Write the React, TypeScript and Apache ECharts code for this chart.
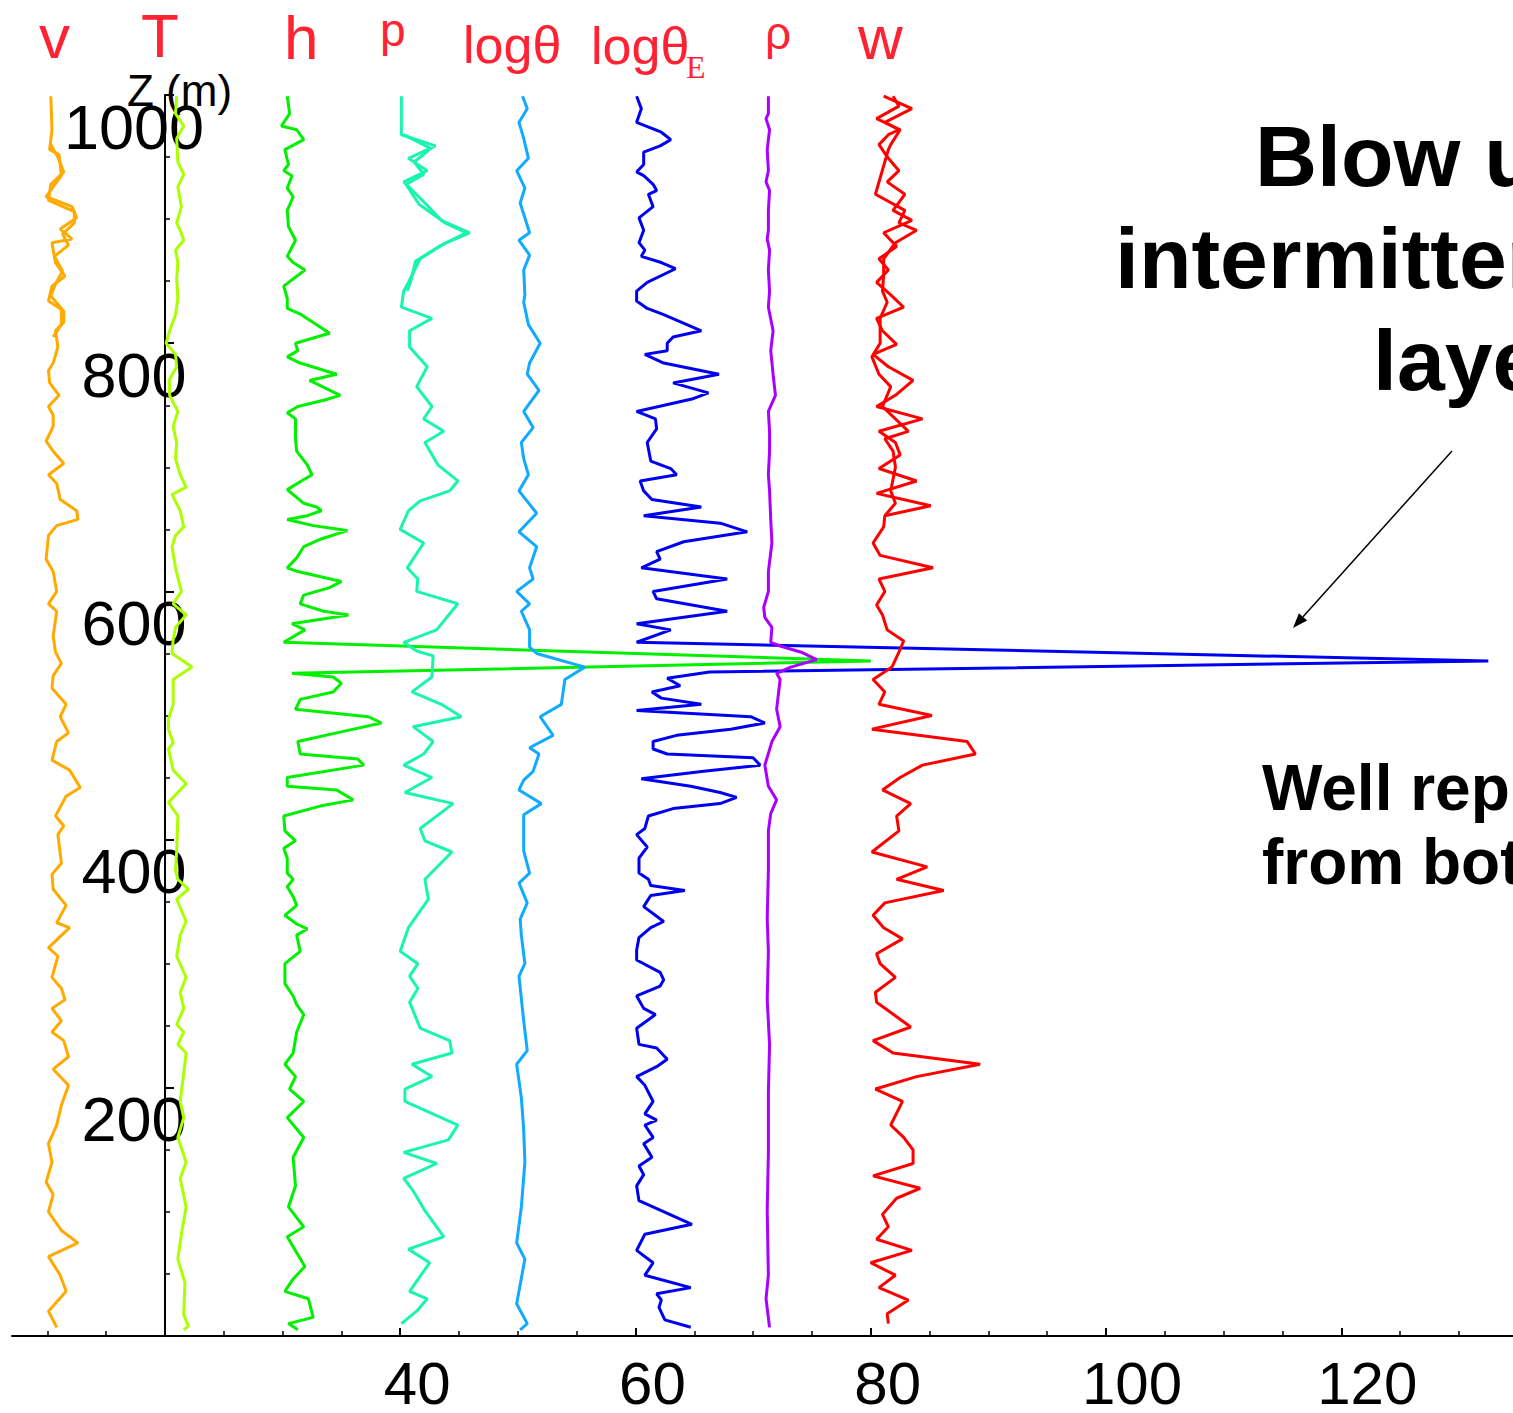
import React, { useEffect, useRef } from "react";
import * as echarts from "echarts";

const W = 1513;
const H = 1413;
const FONT = "'Liberation Sans', Arial, Helvetica, sans-serif";

// axis ticks / labels
const xTickMajor = [20, 40, 60, 80, 100, 120];
const xTickMinor = [10, 15, 25, 30, 35, 45, 50, 55, 65, 70, 75, 85, 90, 95, 105, 110, 115, 125, 130];
const xLabels = [40, 60, 80, 100, 120];
const zLabels = [200, 400, 600, 800, 1000];

// profiles: [z (m), value]
const vProfile: [number, number][] = [
  [999, 10.3], [972, 10.4], [956, 10.2], [952, 11.0], [935, 11.2], [926, 10.5], [918, 9.9], [910, 12.1], [901, 12.5], [892, 11.1],
  [884, 12.1], [881, 10.4], [875, 10.5], [865, 10.7], [854, 11.5], [846, 10.4], [834, 10.1], [826, 11.4], [817, 11.4], [810, 10.7],
  [797, 10.9], [784, 10.5], [778, 10.1], [768, 10.2], [758, 11.0], [749, 10.1], [742, 10.5], [733, 10.5], [721, 9.9], [713, 10.5],
  [703, 11.4], [694, 10.1], [687, 10.8], [674, 11.1], [665, 12.5], [658, 12.6], [653, 10.8], [645, 10.1], [626, 9.9], [616, 10.5],
  [600, 10.8], [590, 10.1], [584, 10.8], [564, 10.5], [551, 10.7], [542, 11.2], [532, 10.5], [522, 10.4], [509, 11.6], [499, 11.1],
  [486, 11.8], [479, 10.8], [464, 10.4], [456, 11.9], [442, 12.8], [435, 11.6], [419, 10.7], [411, 11.4], [404, 10.9], [381, 11.2],
  [372, 10.4], [360, 10.5], [347, 11.6], [333, 10.8], [329, 11.9], [313, 10.1], [306, 10.9], [289, 10.4], [280, 11.2], [271, 11.5],
  [264, 10.4], [254, 11.2], [245, 10.4], [238, 11.4], [225, 11.8], [215, 10.5], [202, 11.8], [186, 11.2], [170, 10.8], [155, 10.1],
  [140, 10.4], [124, 9.9], [114, 10.5], [100, 10.1], [85, 11.2], [75, 12.6], [64, 10.1], [49, 11.1], [36, 11.6], [20, 10.1], [7, 10.8],
];

// second (return) trace of v in the upper part
const vReturnProfile: [number, number][] = [
  [960, 10.3], [950, 10.9], [938, 11.4], [928, 10.3], [915, 10.1], [906, 12.3], [897, 12.3], [888, 11.3], [879, 11.8], [870, 10.6],
  [858, 11.3], [848, 10.7], [838, 10.3], [828, 11.2], [815, 11.2], [805, 10.5],
];

const tProfile: [number, number][] = [
  [999, 21.0], [985, 20.9], [975, 21.6], [965, 21.0], [946, 21.1], [936, 21.6], [926, 21.1], [910, 21.4], [897, 21.0], [891, 21.3],
  [883, 21.6], [875, 20.9], [865, 21.1], [852, 21.0], [836, 21.1], [823, 20.9], [810, 20.4], [800, 20.1], [791, 20.9], [781, 21.0],
  [771, 20.4], [758, 20.4], [745, 21.1], [733, 20.7], [720, 21.0], [707, 20.9], [694, 21.3], [684, 21.8], [678, 20.6], [665, 21.3],
  [652, 21.6], [645, 20.9], [636, 20.6], [619, 20.9], [600, 21.4], [590, 20.7], [581, 21.8], [571, 20.9], [561, 20.7], [550, 20.6],
  [539, 22.3], [529, 20.7], [509, 20.7], [497, 20.3], [489, 20.3], [478, 20.7], [473, 20.3], [456, 20.7], [445, 21.8], [430, 20.3],
  [419, 21.1], [391, 21.0], [375, 20.9], [368, 21.1], [360, 22.0], [352, 21.0], [334, 21.8], [323, 21.3], [306, 21.0], [289, 21.8],
  [277, 21.3], [264, 21.6], [251, 21.0], [245, 21.6], [235, 21.1], [228, 21.8], [212, 21.6], [189, 21.3], [176, 21.6], [160, 21.1],
  [140, 21.8], [127, 21.3], [104, 21.8], [82, 21.4], [62, 21.1], [43, 21.7], [17, 21.6], [8, 22.0], [5, 21.6],
];

const hProfile: [number, number][] = [
  [999, 30.4], [985, 30.6], [975, 29.9], [972, 31.2], [964, 31.8], [956, 30.2], [944, 30.5], [939, 30.1], [935, 30.8], [925, 30.4],
  [918, 30.9], [907, 30.4], [894, 30.5], [883, 31.1], [870, 30.4], [865, 30.9], [859, 31.9], [846, 30.1], [836, 30.4], [828, 30.4],
  [823, 31.6], [808, 34.0], [800, 31.1], [794, 31.3], [789, 30.4], [784, 31.5], [775, 34.6], [770, 32.3], [758, 34.9], [754, 33.5],
  [749, 31.3], [744, 30.4], [739, 31.1], [723, 31.1], [713, 31.2], [702, 32.1], [694, 32.5], [689, 31.6], [682, 30.4], [671, 31.8],
  [668, 32.9], [665, 33.3], [661, 32.1], [658, 30.4], [653, 32.6], [649, 35.5], [642, 33.2], [636, 31.8], [627, 31.2], [619, 30.4],
  [616, 31.3], [608, 35.0], [603, 34.0], [597, 31.8], [590, 31.5], [584, 33.5], [581, 35.6], [574, 30.8], [569, 31.9], [559, 30.1],
  [544, 80.0], [534, 30.8], [531, 34.3], [526, 35.0], [519, 34.3], [513, 31.5], [505, 31.1], [499, 37.3], [494, 38.4], [486, 34.6],
  [479, 31.3], [469, 31.5], [465, 36.4], [460, 36.9], [450, 30.4], [443, 30.4], [440, 34.6], [432, 36.0], [427, 33.2], [419, 30.1],
  [407, 30.2], [399, 31.1], [393, 30.1], [385, 30.4], [373, 30.4], [368, 30.9], [362, 30.4], [354, 30.9], [347, 31.2], [339, 30.2],
  [332, 31.2], [328, 32.1], [323, 31.2], [310, 31.5], [300, 30.2], [284, 30.2], [274, 30.9], [267, 31.2], [259, 31.8], [245, 31.2],
  [228, 30.9], [219, 30.2], [209, 31.1], [199, 30.6], [189, 31.8], [176, 30.4], [160, 31.8], [144, 30.9], [121, 31.1], [104, 30.5],
  [88, 31.8], [80, 30.4], [72, 30.9], [56, 31.9], [46, 30.9], [36, 30.2], [30, 32.2], [15, 32.6], [10, 30.5], [5, 31.3],
];

const pProfile: [number, number][] = [
  [999, 40.1], [968, 40.1], [959, 43.0], [949, 40.7], [939, 42.3], [930, 40.3], [914, 42.0], [899, 43.5], [889, 45.9], [880, 43.7],
  [868, 41.7], [849, 40.7], [842, 40.3], [829, 40.1], [820, 42.7], [810, 40.8], [797, 40.8], [781, 42.3], [765, 41.4], [749, 42.7],
  [739, 42.0], [729, 43.7], [720, 42.1], [702, 43.2], [689, 44.9], [681, 44.2], [673, 41.7], [665, 40.7], [650, 40.0], [639, 42.0],
  [619, 40.6], [610, 41.5], [600, 41.4], [590, 44.9], [569, 43.1], [559, 40.3], [552, 41.4], [548, 42.8], [531, 42.7], [519, 41.0],
  [509, 43.5], [499, 45.2], [491, 41.1], [479, 42.8], [469, 42.0], [460, 40.3], [450, 42.7], [438, 40.4], [429, 44.5], [409, 41.7],
  [399, 42.1], [390, 44.4], [368, 42.1], [352, 42.4], [329, 40.7], [310, 40.0], [300, 41.5], [290, 40.8], [280, 41.5], [269, 40.8],
  [248, 41.7], [238, 44.2], [228, 44.4], [219, 41.0], [209, 42.7], [199, 40.4], [189, 40.4], [170, 44.9], [158, 44.1], [148, 40.3],
  [139, 43.1], [127, 40.3], [117, 41.1], [101, 42.1], [80, 43.7], [70, 40.7], [59, 42.5], [36, 40.8], [30, 42.3], [20, 41.4], [10, 40.1],
];

// second (return) trace of p in the upper part
const pReturnProfile: [number, number][] = [
  [968, 40.3], [957, 42.6], [946, 41.2], [936, 42.0], [928, 40.5], [912, 41.6], [897, 43.8], [889, 45.6], [878, 43.3], [866, 41.3],
  [850, 40.9], [842, 40.6],
];

const logThetaProfile: [number, number][] = [
  [999, 50.4], [989, 50.8], [978, 50.1], [965, 50.5], [949, 50.9], [939, 49.9], [925, 50.6], [913, 50.2], [889, 51.0], [883, 50.1],
  [871, 51.0], [859, 50.5], [839, 50.6], [833, 50.5], [815, 50.9], [800, 51.9], [784, 51.0], [775, 50.8], [762, 51.8], [745, 50.5],
  [732, 51.3], [720, 50.3], [707, 50.5], [694, 50.9], [681, 50.1], [663, 51.6], [648, 50.1], [636, 51.6], [619, 51.0], [610, 51.3],
  [600, 49.9], [590, 51.0], [584, 50.3], [569, 51.0], [555, 51.0], [550, 51.6], [539, 55.7], [529, 54.0], [509, 53.7], [499, 51.9],
  [484, 53.0], [474, 51.0], [469, 51.8], [455, 51.3], [448, 50.5], [440, 50.1], [429, 52.0], [420, 50.5], [391, 50.5], [373, 51.0],
  [365, 50.1], [349, 50.8], [336, 50.2], [323, 50.3], [300, 50.6], [290, 50.1], [254, 50.5], [230, 50.8], [219, 49.9], [192, 50.3],
  [166, 50.5], [140, 50.6], [104, 50.3], [75, 49.9], [62, 50.6], [26, 49.9], [10, 50.8], [5, 50.2],
];

const logThetaEProfile: [number, number][] = [
  [999, 60.1], [989, 60.5], [978, 60.1], [970, 62.2], [964, 63.0], [959, 62.1], [954, 60.7], [944, 60.7], [938, 60.1], [935, 60.7],
  [928, 61.5], [923, 61.8], [920, 61.1], [910, 61.5], [901, 60.3], [891, 60.7], [881, 60.3], [875, 60.8], [870, 60.5], [865, 62.2],
  [860, 63.4], [849, 61.0], [842, 60.1], [834, 60.1], [828, 61.0], [823, 62.4], [810, 65.6], [805, 63.2], [800, 62.7], [794, 62.7],
  [791, 60.8], [784, 62.4], [775, 67.1], [768, 63.2], [760, 66.2], [755, 64.8], [745, 60.1], [739, 61.7], [731, 61.8], [720, 61.0],
  [705, 61.3], [699, 63.0], [694, 63.5], [689, 60.4], [681, 60.7], [674, 61.4], [668, 65.6], [661, 60.7], [655, 67.2], [648, 69.5],
  [640, 64.1], [632, 61.8], [626, 62.1], [619, 60.5], [610, 67.8], [600, 61.5], [594, 61.8], [584, 67.8], [574, 60.1], [569, 63.0],
  [559, 60.1], [544, 132.5], [535, 66.3], [530, 62.7], [524, 63.8], [519, 61.4], [514, 62.2], [509, 65.6], [504, 60.1], [499, 69.8],
  [494, 71.0], [489, 68.1], [484, 63.5], [479, 61.5], [473, 61.5], [469, 62.7], [466, 70.0], [460, 70.6], [455, 65.8], [449, 60.5],
  [443, 64.7], [438, 67.2], [434, 68.6], [429, 67.2], [425, 63.2], [419, 61.1], [409, 60.8], [404, 60.1], [394, 61.0], [385, 60.3],
  [373, 60.3], [368, 61.1], [363, 61.3], [359, 64.2], [355, 61.3], [346, 60.7], [334, 62.4], [329, 61.3], [321, 60.3], [311, 60.1],
  [303, 60.1], [293, 62.1], [287, 62.4], [282, 62.1], [274, 60.1], [264, 60.7], [259, 61.7], [248, 60.1], [235, 60.3], [232, 61.8],
  [223, 62.7], [217, 61.8], [209, 60.1], [202, 60.8], [189, 61.5], [179, 60.8], [174, 61.8], [170, 60.8], [160, 61.5], [155, 60.7],
  [144, 61.4], [137, 60.3], [130, 60.7], [121, 60.1], [109, 60.3], [90, 64.8], [82, 60.8], [69, 60.1], [59, 61.5], [49, 60.8],
  [39, 64.7], [34, 61.8], [29, 62.2], [23, 62.0], [13, 62.5], [7, 64.7],
];

const rhoProfile: [number, number][] = [
  [999, 71.3], [985, 71.3], [981, 71.1], [972, 71.4], [956, 71.2], [939, 71.3], [930, 71.1], [923, 71.4], [907, 71.3], [891, 71.3],
  [884, 71.2], [875, 71.4], [859, 71.3], [842, 71.4], [829, 71.3], [810, 71.7], [794, 71.5], [775, 71.7], [758, 71.9], [745, 71.3],
  [729, 71.4], [713, 71.4], [694, 71.3], [681, 71.4], [658, 71.5], [639, 71.6], [616, 71.3], [600, 71.3], [587, 70.9], [579, 71.0],
  [571, 71.6], [559, 71.5], [556, 72.3], [551, 74.1], [545, 75.4], [539, 73.2], [534, 72.0], [529, 72.3], [505, 72.0], [491, 72.3],
  [479, 71.6], [460, 71.0], [443, 71.3], [432, 72.0], [421, 71.5], [407, 71.3], [375, 71.3], [336, 71.2], [310, 71.3], [271, 71.2],
  [235, 71.4], [196, 71.3], [147, 71.3], [101, 71.2], [49, 71.3], [30, 71.1], [7, 71.4],
];

const wProfile: [number, number][] = [
  [999, 81.1], [989, 83.5], [978, 81.2], [972, 82.4], [968, 81.5], [960, 80.7], [949, 81.5], [939, 82.4], [930, 81.4], [920, 82.9],
  [907, 81.9], [899, 83.5], [889, 81.1], [878, 82.2], [868, 80.7], [859, 81.5], [849, 80.5], [839, 81.7], [829, 82.8], [820, 80.5],
  [810, 81.0], [799, 82.2], [791, 80.2], [781, 81.5], [770, 83.6], [758, 82.1], [749, 80.5], [739, 84.4], [729, 80.7], [720, 82.1],
  [710, 82.5], [699, 80.7], [689, 83.9], [679, 80.5], [669, 85.1], [661, 81.2], [652, 81.1], [639, 80.2], [629, 80.8], [619, 85.3],
  [610, 80.7], [600, 81.2], [589, 80.5], [581, 81.0], [569, 81.4], [560, 82.8], [551, 82.4], [539, 81.8], [529, 80.2], [519, 81.2],
  [509, 80.7], [500, 85.2], [489, 80.1], [479, 88.2], [469, 88.9], [460, 84.4], [450, 82.5], [440, 81.0], [429, 83.4], [419, 82.2],
  [407, 82.4], [390, 80.1], [378, 84.8], [368, 82.2], [359, 86.2], [349, 81.2], [339, 80.2], [329, 81.1], [320, 82.7], [308, 80.5],
  [300, 80.8], [289, 82.1], [277, 80.4], [269, 80.5], [249, 83.4], [238, 80.2], [228, 81.9], [219, 89.3], [209, 83.9], [199, 80.4],
  [189, 82.7], [170, 81.7], [160, 82.8], [150, 83.6], [139, 83.6], [129, 80.2], [119, 84.2], [111, 82.2], [98, 81.0], [88, 81.5],
  [78, 80.5], [69, 83.5], [59, 80.0], [49, 82.1], [39, 80.7], [29, 83.2], [18, 81.4], [10, 81.5],
];

// second (return) trace of w in the upper part
const wReturnProfile: [number, number][] = [
  [999, 81.9], [991, 82.4], [981, 80.5], [972, 82.5], [960, 81.7], [956, 81.5], [920, 80.4], [907, 82.9], [897, 82.4], [891, 83.9],
  [881, 82.1], [868, 81.1], [855, 81.1], [842, 81.0], [833, 81.4], [820, 80.8], [800, 80.8], [789, 80.1], [775, 80.7], [765, 81.7],
  [749, 81.0], [729, 83.2], [723, 81.2], [713, 81.9], [700, 82.1], [681, 81.7], [671, 82.1], [661, 81.2],
];

const profiles = [
  { name: "v", color: "#ffaa00", data: vProfile },
  { name: "v (return)", color: "#ffaa00", data: vReturnProfile },
  { name: "T", color: "#aaff00", data: tProfile },
  { name: "h", color: "#00f000", data: hProfile },
  { name: "p", color: "#19f5b0", data: pProfile },
  { name: "p (return)", color: "#19f5b0", data: pReturnProfile },
  { name: "logθ", color: "#10aaff", data: logThetaProfile },
  { name: "logθE", color: "#0000f0", data: logThetaEProfile },
  { name: "ρ", color: "#aa00ff", data: rhoProfile },
  { name: "w", color: "#ff0000", data: wProfile },
  { name: "w (return)", color: "#ff0000", data: wReturnProfile },
];

const RED = "#ff2233";

function redLabel(text: string, x: number, y: number, size: number, family = FONT) {
  return {
    type: "text",
    x,
    y,
    silent: true,
    style: {
      text,
      fill: RED,
      font: `${size}px ${family}`,
      textAlign: "left",
      textVerticalAlign: "middle",
    },
  };
}

function boldLabel(text: string, x: number, y: number, size: number) {
  return {
    type: "text",
    x,
    y,
    silent: true,
    style: {
      text,
      fill: "#000",
      font: `bold ${size}px ${FONT}`,
      textAlign: "left",
      textVerticalAlign: "middle",
    },
  };
}

export default function App() {
  const ref = useRef<HTMLDivElement>(null);

  useEffect(() => {
    if (!ref.current) return;
    const chart = echarts.init(ref.current, undefined, { renderer: "svg" });

    // arrow geometry (annotation)
    const ax1 = 1452, ay1 = 451, ax2 = 1293, ay2 = 628;
    const dx = ax2 - ax1, dy = ay2 - ay1;
    const len = Math.sqrt(dx * dx + dy * dy);
    const ux = dx / len, uy = dy / len;
    const hl = 15, hw = 5.5;
    const bx = ax2 - ux * hl, by = ay2 - uy * hl;

    const option: any = {
      animation: false,
      backgroundColor: "#ffffff",
      grid: { left: 12, right: 0, top: 95, bottom: 75, containLabel: false },
      xAxis: [
        {
          type: "value",
          min: 7,
          max: 134.6,
          position: "bottom",
          axisLine: { show: true, onZero: false, lineStyle: { color: "#000", width: 2 } },
          axisTick: { show: true, inside: true, length: 8, customValues: xTickMajor, lineStyle: { color: "#000", width: 2 } },
          axisLabel: {
            show: true,
            customValues: xLabels,
            margin: 17,
            color: "#000",
            fontSize: 60,
            fontFamily: FONT,
            formatter: (v: number) => (v >= 100 ? `{c|${v}}` : `{b|${v}}`),
            rich: {
              b: { fontSize: 60, fontFamily: FONT, color: "#000", padding: [0, 0, 0, 34] },
              c: { fontSize: 60, fontFamily: FONT, color: "#000", padding: [0, 0, 0, 52] },
            },
          },
          splitLine: { show: false },
        },
        {
          type: "value",
          min: 7,
          max: 134.6,
          position: "bottom",
          axisLine: { show: false, onZero: false },
          axisTick: { show: true, inside: true, length: 5, customValues: xTickMinor, lineStyle: { color: "#000", width: 1.5 } },
          axisLabel: { show: false },
          splitLine: { show: false },
        },
      ],
      yAxis: {
        type: "value",
        min: 0,
        max: 1000,
        interval: 200,
        position: "left",
        offset: -153,
        axisLine: { show: true, onZero: false, lineStyle: { color: "#000", width: 2 } },
        axisTick: { show: true, inside: true, length: 9, lineStyle: { color: "#000", width: 2 } },
        minorTick: { show: true, splitNumber: 4, length: 5, lineStyle: { color: "#000", width: 1.5 } },
        axisLabel: {
          show: true,
          customValues: zLabels,
          align: "center",
          verticalAlign: "top",
          margin: 31,
          formatter: (v: number) => String(v),
          color: "#000",
          fontSize: 63,
          fontFamily: FONT,
        },
        splitLine: { show: false },
        minorSplitLine: { show: false },
      },
      series: profiles.map((p) => ({
        type: "line",
        name: p.name,
        xAxisIndex: 0,
        yAxisIndex: 0,
        data: p.data.map(([z, val]) => [val, z]),
        showSymbol: false,
        symbol: "none",
        silent: true,
        lineStyle: { color: p.color, width: 3 },
        itemStyle: { color: p.color },
      })),
      graphic: [
        redLabel("v", 39, 36, 62),
        redLabel("T", 141, 35, 62),
        redLabel("h", 284, 37, 62),
        redLabel("p", 380, 30, 46),
        redLabel("logθ", 463, 45, 52),
        redLabel("logθ", 591, 46, 52),
        redLabel("E", 686, 67, 32, "'Liberation Serif', 'Times New Roman', serif"),
        redLabel("ρ", 765, 33, 46),
        redLabel("w", 858, 37, 62),
        {
          type: "text",
          x: 127,
          y: 90,
          silent: true,
          style: { text: "Z (m)", fill: "#000", font: `44px ${FONT}`, textAlign: "left", textVerticalAlign: "middle" },
        },
        boldLabel("Blow u", 1255, 156, 86),
        boldLabel("intermitter", 1115, 258, 86),
        boldLabel("laye", 1373, 360, 86),
        boldLabel("Well rep", 1262, 788, 64),
        boldLabel("from bot", 1262, 862, 64),
        {
          type: "line",
          silent: true,
          shape: { x1: ax1, y1: ay1, x2: bx, y2: by },
          style: { stroke: "#000", lineWidth: 1.5 },
        },
        {
          type: "polygon",
          silent: true,
          shape: {
            points: [
              [ax2, ay2],
              [bx + (-uy) * hw, by + ux * hw],
              [bx - (-uy) * hw, by - ux * hw],
            ],
          },
          style: { fill: "#000" },
        },
      ],
    };

    chart.setOption(option);
    return () => {
      chart.dispose();
    };
  }, []);

  return (
    <div
      ref={ref}
      style={{ position: "absolute", left: 0, top: 0, width: W, height: H, background: "#fff" }}
    />
  );
}
